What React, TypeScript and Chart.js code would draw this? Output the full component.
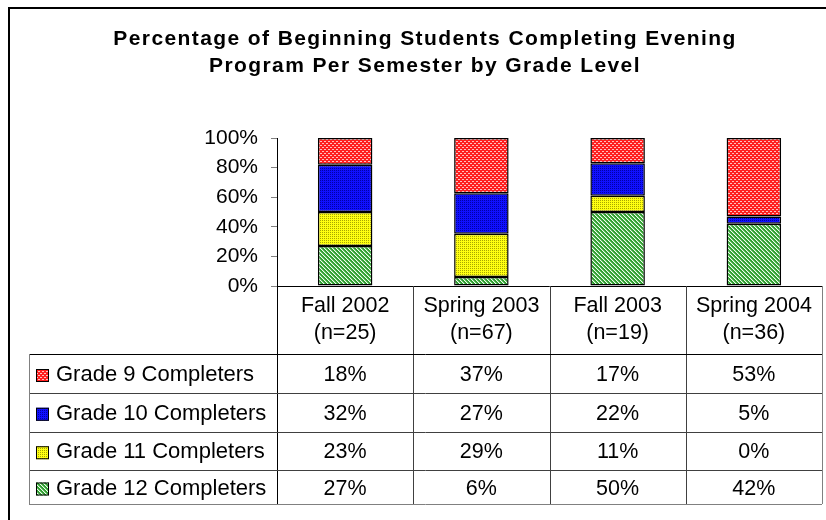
import { useEffect, useRef } from 'react';
import { Chart, registerables } from 'chart.js';

Chart.register(...registerables);

const titleLines = [
  'Percentage of Beginning Students Completing Evening',
  'Program Per Semester by Grade Level',
];
const categories = ['Fall 2002', 'Spring 2003', 'Fall 2003', 'Spring 2004'];
const sampleSizes = [25, 67, 19, 36];
const seriesNames = [
  'Grade 9 Completers',
  'Grade 10 Completers',
  'Grade 11 Completers',
  'Grade 12 Completers',
];
const grade9 = [18, 37, 17, 53];
const grade10 = [32, 27, 22, 5];
const grade11 = [23, 29, 11, 0];
const grade12 = [27, 6, 50, 42];
const yTicks = [0, 20, 40, 60, 80, 100];

const FONT = 'Arial, "Liberation Sans", sans-serif';

function makePattern(kind: string): CanvasPattern | string {
  const c = document.createElement('canvas');
  c.width = 4;
  c.height = 4;
  const g = c.getContext('2d');
  if (!g) return '#888';
  for (let y = 0; y < 4; y++) {
    for (let x = 0; x < 4; x++) {
      let col = '#fff';
      if (kind === 'red') {
        col = '#ff2020';
        if ((y === 1 && x < 2) || (y === 3 && x >= 2)) col = '#ffc0c0';
      } else if (kind === 'blue') {
        col = '#1010ff';
        if (x % 2 === 0 && y % 2 === 0) col = '#0000a8';
      } else if (kind === 'yellow') {
        col = '#ffff10';
        if (x % 2 === 0 && y % 2 === 0) col = '#a8a800';
      } else if (kind === 'green') {
        const d = (x - y + 8) % 4;
        col = d === 0 ? '#f0fff0' : d === 1 ? '#70c070' : '#30a030';
      }
      g.fillStyle = col;
      g.fillRect(x, y, 1, 1);
    }
  }
  const p = g.createPattern(c, 'repeat');
  return p || '#888';
}

export default function App() {
  const ref = useRef<HTMLCanvasElement | null>(null);

  useEffect(() => {
    const canvas = ref.current;
    if (!canvas) return;
    const seriesTop = [grade9, grade10, grade11, grade12];
    const fills = [makePattern('red'), makePattern('blue'), makePattern('yellow'), makePattern('green')];
    const totals = categories.map((_, i) => grade9[i] + grade10[i] + grade11[i] + grade12[i]);

    // datasets bottom-up (Grade 12 at the bottom of the stack)
    const datasets = [3, 2, 1, 0].map((k) => ({
      label: seriesNames[k],
      data: seriesTop[k].map((v, i) => (v / totals[i]) * 100),
      backgroundColor: fills[k] as any,
      borderColor: '#000',
      borderWidth: 1.5,
      borderSkipped: false as any,
      barPercentage: 0.4,
      categoryPercentage: 1,
    }));

    const tablePlugin = {
      id: 'tablePlugin',
      beforeDraw(chart: any) {
        const ctx = chart.ctx;
        ctx.save();
        ctx.fillStyle = '#fff';
        ctx.fillRect(0, 0, chart.width, chart.height);
        ctx.restore();
      },
      afterDraw(chart: any) {
        const ctx: CanvasRenderingContext2D = chart.ctx;
        const area = chart.chartArea;
        const xs = chart.scales.x;
        const n = categories.length;
        const colW = xs.getPixelForValue(1) - xs.getPixelForValue(0);
        const edges: number[] = [];
        for (let i = 0; i <= n; i++) {
          edges.push(i === n ? area.right : xs.getPixelForValue(i) - colW / 2);
        }
        const top = area.bottom;
        const headerBottom = top + 68;
        const rowEdges = [0, 39, 77.5, 116, 150].map((d) => headerBottom + d);
        const legendLeft = 29;

        ctx.save();
        const line = (x1: number, y1: number, x2: number, y2: number, color: string) => {
          ctx.strokeStyle = color;
          ctx.lineWidth = 1;
          ctx.beginPath();
          ctx.moveTo(x1, y1);
          ctx.lineTo(x2, y2);
          ctx.stroke();
        };
        const r = (v: number) => Math.round(v) + 0.5;

        line(area.left, r(top), area.right, r(top), '#000');
        for (let i = 0; i <= n; i++) {
          const x = r(edges[i]);
          const col = i === 0 ? '#000' : i === n ? '#808080' : '#404040';
          line(x, top, x, rowEdges[rowEdges.length - 1], col);
        }
        rowEdges.forEach((y, j) => {
          const col = j === 0 ? '#000' : j === rowEdges.length - 1 ? '#808080' : '#404040';
          line(legendLeft, r(y), area.right, r(y), col);
        });
        line(r(legendLeft), rowEdges[0], r(legendLeft), rowEdges[rowEdges.length - 1], '#808080');

        // header labels
        ctx.fillStyle = '#000';
        ctx.font = `21.5px ${FONT}`;
        ctx.textAlign = 'center';
        ctx.textBaseline = 'alphabetic';
        categories.forEach((c, i) => {
          const cx = xs.getPixelForValue(i);
          ctx.fillText(c, cx, top + 25.5);
          ctx.fillText(`(n=${sampleSizes[i]})`, cx, top + 53);
        });

        // rows
        seriesTop.forEach((vals, j) => {
          const y0 = rowEdges[j];
          const y1 = rowEdges[j + 1];
          const base = (y0 + y1) / 2 + 7.5;
          ctx.fillStyle = fills[j] as any;
          ctx.fillRect(36, base - 12, 13, 13);
          ctx.strokeStyle = '#000';
          ctx.lineWidth = 1;
          ctx.strokeRect(36.5, base - 11.5, 12, 12);
          ctx.fillStyle = '#000';
          ctx.textAlign = 'left';
          ctx.font = `22px ${FONT}`;
          ctx.fillText(seriesNames[j], 56, base);
          ctx.textAlign = 'center';
          ctx.font = `21.5px ${FONT}`;
          vals.forEach((v, i) => {
            ctx.fillText(`${v}%`, xs.getPixelForValue(i), base);
          });
        });

        // title
        ctx.font = `bold 21px ${FONT}`;
        (ctx as any).letterSpacing = '1.4px';
        ctx.textAlign = 'center';
        ctx.fillText(titleLines[0], 425, 44.5);
        ctx.fillText(titleLines[1], 425, 72);
        (ctx as any).letterSpacing = '0px';

        // outer frame
        ctx.strokeStyle = '#000';
        ctx.lineWidth = 2;
        ctx.strokeRect(9, 8, chart.width + 10, chart.height + 10);
        ctx.restore();
      },
    };

    const chart = new Chart(canvas, {
      type: 'bar',
      data: {
        labels: categories.map((c, i) => [c, `(n=${sampleSizes[i]})`]),
        datasets: datasets as any,
      },
      options: {
        responsive: false,
        animation: false,
        layout: { padding: { top: 138, bottom: 234, left: 0, right: 4 } },
        plugins: {
          legend: { display: false },
          title: { display: false },
          tooltip: { enabled: false },
        },
        scales: {
          x: { display: false, stacked: true },
          y: {
            stacked: true,
            min: 0,
            max: 100,
            afterBuildTicks: (s: any) => {
              s.ticks = yTicks.map((v) => ({ value: v }));
            },
            afterFit: (s: any) => {
              s.width = 277;
            },
            ticks: {
              callback: (v: any) => `${v}%`,
              color: '#000',
              padding: 13,
              font: { family: FONT, size: 21 },
            },
            grid: { drawOnChartArea: false, color: '#808080', tickLength: 6 },
            border: { color: '#000', width: 1 },
          },
        },
      },
      plugins: [tablePlugin],
    });
    return () => chart.destroy();
  }, []);

  return (
    <div style={{ position: 'absolute', left: 0, top: 0, width: 826, height: 520 }}>
      <canvas ref={ref} width={826} height={520} style={{ width: 826, height: 520 }} />
    </div>
  );
}
